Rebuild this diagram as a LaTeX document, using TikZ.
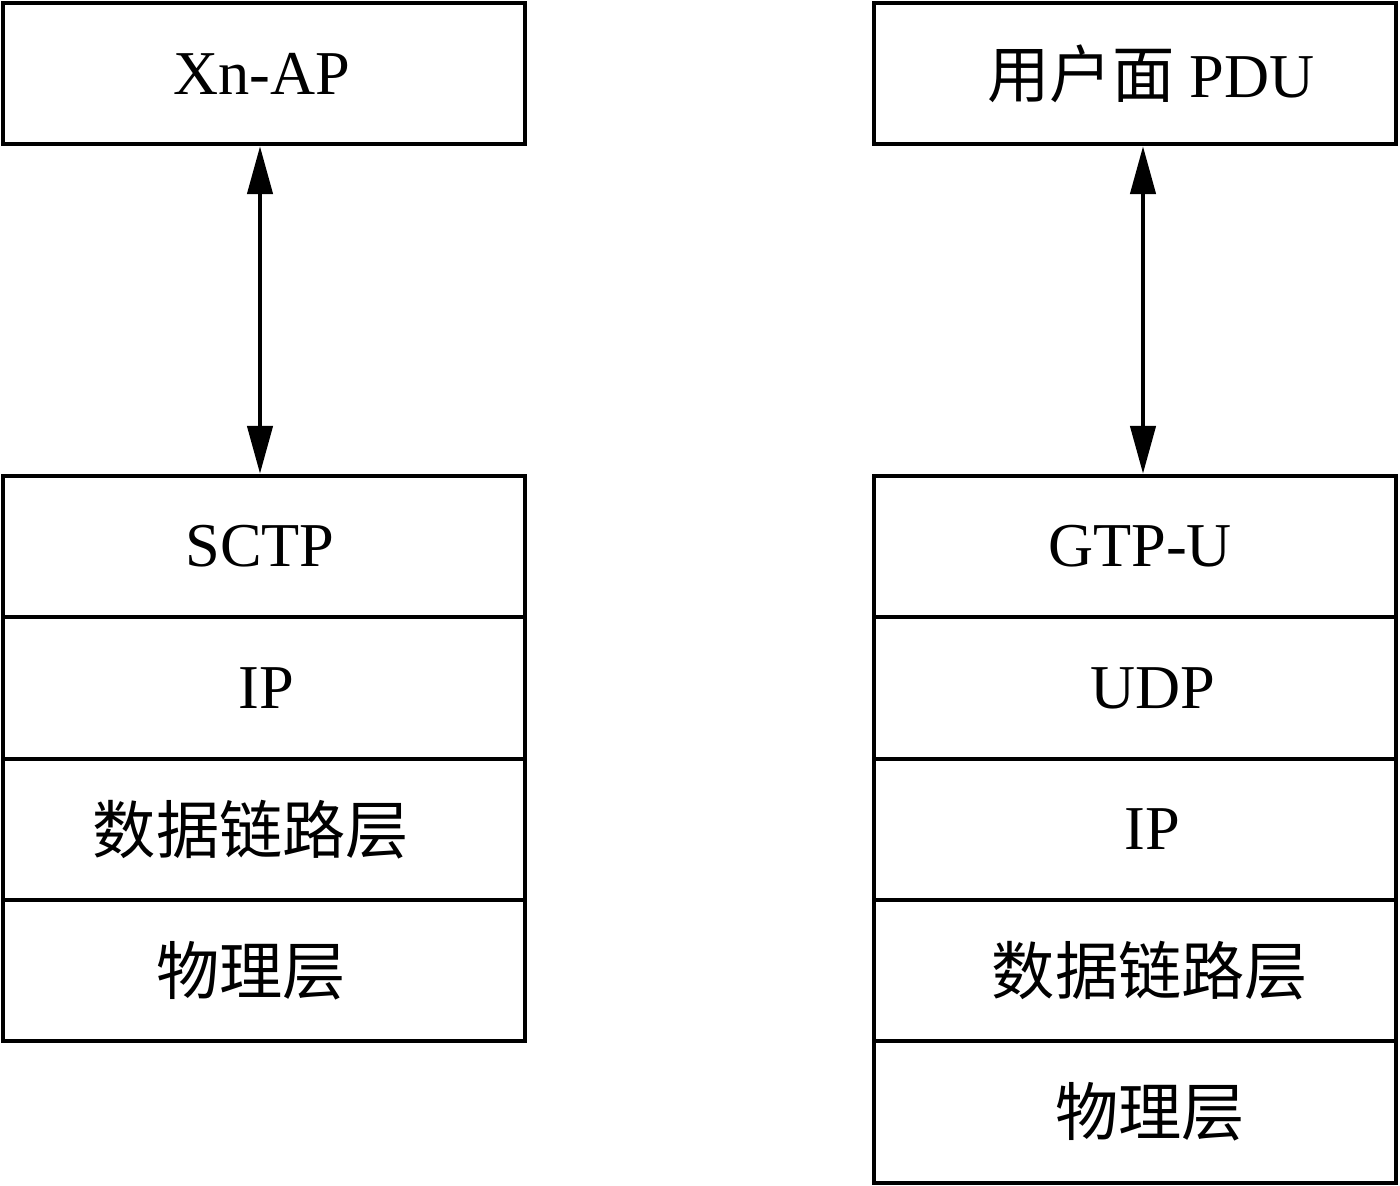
\documentclass[tikz,border=0pt]{standalone}
\usepackage{fontspec}
\setmainfont{Liberation Serif}
\newfontfamily\cjk{Noto Sans CJK SC}
\usetikzlibrary{arrows.meta}
\begin{document}
\begin{tikzpicture}[x=0.02cm,y=-0.02cm,
  layer/.style={draw,line width=2.2pt,rectangle,minimum width=10.44cm,minimum height=2.83cm,inner sep=0pt},
  lat/.style={font=\fontsize{35.5}{40}\selectfont,inner sep=0pt},
  cjkt/.style={font=\cjk\fontsize{36}{40}\selectfont,inner sep=0pt},
  link/.style={line width=2.6pt,{Triangle[length=0.96cm,width=0.5cm]}-{Triangle[length=0.96cm,width=0.5cm]}}]
\useasboundingbox (0,0) rectangle (1400,1186);
% left stack
\node[layer] (xnap) at (264,73.5) {};
\node[layer] (sctp) at (264,546.5) {};
\node[layer] (lip) at (264,688) {};
\node[layer] (ldl) at (264,829.5) {};
\node[layer] (lph) at (264,970.5) {};
\node[lat] (xnapt) at ([xshift=-2*0.02cm]xnap.center) {Xn-AP};
\node[lat] (sctpt) at ([xshift=-4*0.02cm]sctp.center) {SCTP};
\node[lat] (lipt) at ([xshift=2*0.02cm]lip.center) {IP};
\node[cjkt] (ldlt) at ([xshift=-13*0.02cm]ldl.center) {数据链路层};
\node[cjkt] (lpht) at ([xshift=-13*0.02cm]lph.center) {物理层};
% right stack
\node[layer] (pdu) at (1135,73.5) {};
\node[layer] (gtpu) at (1135,546.5) {};
\node[layer] (udp) at (1135,688) {};
\node[layer] (rip) at (1135,829.5) {};
\node[layer] (rdl) at (1135,970.5) {};
\node[layer] (rph) at (1135,1112) {};
\node[lat] (pdut) at ([xshift=16*0.02cm]pdu.center) {{\cjk 用户面} PDU};
\node[lat] (gtput) at ([xshift=5*0.02cm]gtpu.center) {GTP-U};
\node[lat] (udpt) at ([xshift=18*0.02cm]udp.center) {UDP};
\node[lat] (ript) at ([xshift=17*0.02cm]rip.center) {IP};
\node[cjkt] (rdlt) at ([xshift=15*0.02cm]rdl.center) {数据链路层};
\node[cjkt] (rpht) at ([xshift=15*0.02cm]rph.center) {物理层};
% arrows
\draw[link] (xnap.south -| 260,0) -- (sctp.north -| 260,0);
\draw[link] (pdu.south -| 1143,0) -- (gtpu.north -| 1143,0);
\end{tikzpicture}
\end{document}
